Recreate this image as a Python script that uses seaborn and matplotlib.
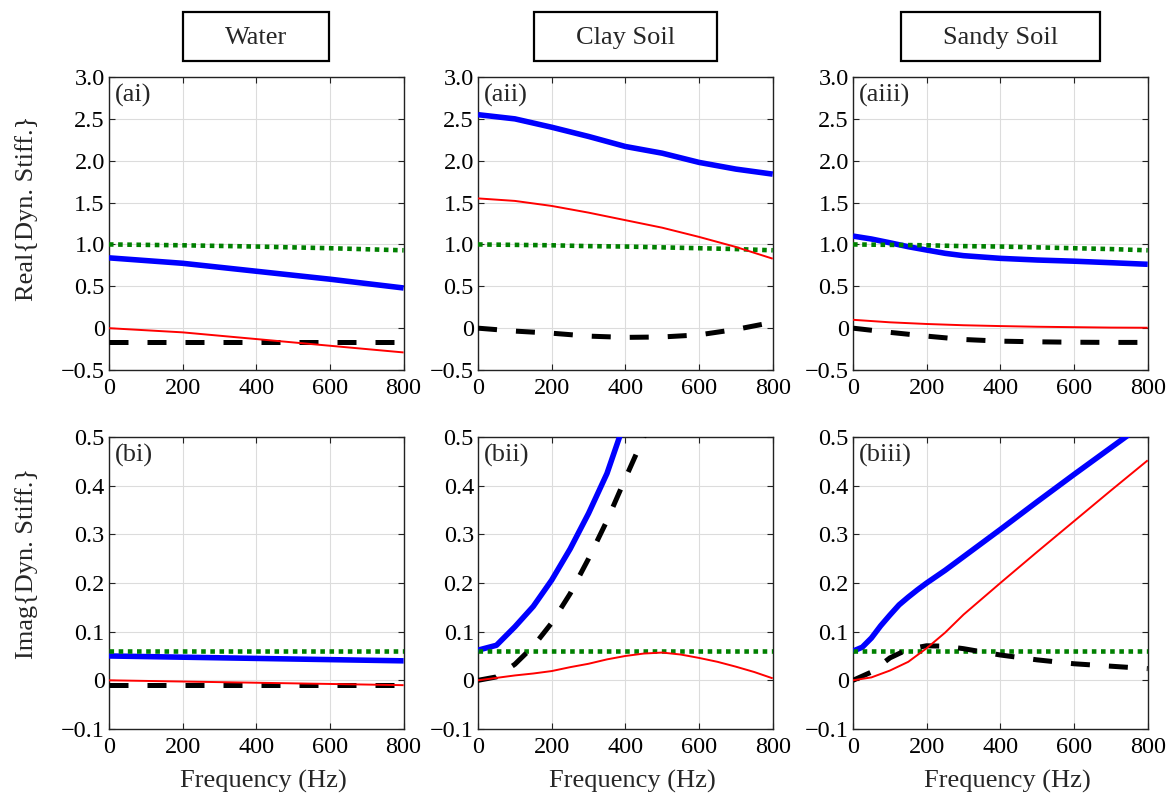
import matplotlib
matplotlib.use("Agg")
import matplotlib.pyplot as plt
import pandas as pd
import seaborn as sns
from matplotlib.patches import Rectangle

sns.set_style("white")
plt.rcParams["font.family"] = ["Liberation Serif", "DejaVu Serif"]
plt.rcParams["axes.unicode_minus"] = True

TICK_FS = 17.5
TEXT_FS = 19

media = ["Water", "Clay Soil", "Sandy Soil"]
real_tags = ["(ai)", "(aii)", "(aiii)"]
imag_tags = ["(bi)", "(bii)", "(biii)"]

x_ticks = [0, 200, 400, 600, 800]
x_ticklabels = ["0", "200", "400", "600", "800"]
re_ticks = [-0.5, 0, 0.5, 1.0, 1.5, 2.0, 2.5, 3.0]
re_ticklabels = ["\u22120.5", "0", "0.5", "1.0", "1.5", "2.0", "2.5", "3.0"]
im_ticks = [-0.1, 0, 0.1, 0.2, 0.3, 0.4, 0.5]
im_ticklabels = ["\u22120.1", "0", "0.1", "0.2", "0.3", "0.4", "0.5"]

f5 = [0, 200, 400, 600, 800]
f9 = [0, 100, 200, 300, 400, 500, 600, 700, 800]
f17 = [0, 50, 100, 150, 200, 250, 300, 350, 400, 450, 500, 550, 600, 650, 700, 750, 800]

# ---- real part of the dynamic stiffness ----
re_water_A = [0.84, 0.775, 0.68, 0.585, 0.48]
re_water_B = [0.0, -0.05, -0.13, -0.21, -0.29]
re_water_C = [1.0, 0.99, 0.975, 0.955, 0.93]
re_water_D = [-0.16, -0.16, -0.16, -0.16, -0.16]

re_clay_A = [2.55, 2.50, 2.40, 2.29, 2.17, 2.09, 1.98, 1.90, 1.84]
re_clay_B = [1.55, 1.52, 1.46, 1.38, 1.29, 1.20, 1.09, 0.97, 0.83]
re_clay_C = [1.0, 0.995, 0.99, 0.98, 0.975, 0.965, 0.955, 0.945, 0.93]
re_clay_D = [0.0, -0.035, -0.06, -0.095, -0.11, -0.105, -0.08, -0.015, 0.07]

re_sand_A_f = [0, 50, 100, 150, 200, 250, 300, 400, 500, 600, 700, 800]
re_sand_A = [1.10, 1.065, 1.02, 0.973, 0.933, 0.894, 0.866, 0.834, 0.814, 0.80, 0.782, 0.763]
re_sand_B = [0.10, 0.07, 0.05, 0.035, 0.025, 0.017, 0.012, 0.007, 0.005]
re_sand_C = [1.0, 0.995, 0.99, 0.98, 0.975, 0.965, 0.955, 0.945, 0.93]
re_sand_D = [0.0, -0.05, -0.095, -0.135, -0.155, -0.163, -0.168, -0.17, -0.17]

# ---- imaginary part of the dynamic stiffness ----
im_water_A = [0.05, 0.0475, 0.045, 0.0425, 0.04]
im_water_B = [0.0, -0.0025, -0.005, -0.0075, -0.01]
im_water_C = [0.06, 0.06, 0.06, 0.06, 0.06]
im_water_D = [-0.01, -0.01, -0.01, -0.01, -0.01]

im_clay_A_f = [0, 50, 100, 150, 200, 250, 300, 350, 400, 450]
im_clay_A = [0.062, 0.072, 0.11, 0.152, 0.206, 0.27, 0.343, 0.425, 0.535, 0.65]
im_clay_B = [0.0, 0.005, 0.01, 0.014, 0.019, 0.027, 0.034, 0.043, 0.05,
             0.055, 0.057, 0.053, 0.046, 0.038, 0.028, 0.017, 0.004]
im_clay_C = [0.06, 0.06, 0.06, 0.06, 0.06]
im_clay_D_f = [0, 50, 100, 150, 200, 250, 300, 350, 400, 450, 500]
im_clay_D = [0.0, 0.007, 0.033, 0.07, 0.118, 0.178, 0.25, 0.328, 0.415, 0.5, 0.58]

im_sand_A_f = [0, 25, 50, 75, 100, 125, 150, 175, 200, 250, 300, 400, 500, 600, 700, 800]
im_sand_A = [0.06, 0.068, 0.087, 0.112, 0.134, 0.155, 0.171, 0.186, 0.20, 0.226, 0.254,
             0.31, 0.367, 0.423, 0.478, 0.533]
im_sand_B_f = [0, 50, 100, 150, 200, 250, 300, 400, 500, 600, 700, 800]
im_sand_B = [0.0, 0.006, 0.02, 0.038, 0.066, 0.098, 0.135, 0.2, 0.264, 0.327, 0.39, 0.452]
im_sand_C = [0.06, 0.06, 0.06, 0.06, 0.06]
im_sand_D_f = [0, 50, 100, 150, 200, 250, 300, 400, 500, 600, 700, 800]
im_sand_D = [0.0, 0.017, 0.046, 0.064, 0.071, 0.07, 0.065, 0.052, 0.042, 0.034, 0.029, 0.024]

real_panels = [
    {"A": (f5, re_water_A), "B": (f5, re_water_B), "C": (f5, re_water_C), "D": (f5, re_water_D)},
    {"A": (f9, re_clay_A), "B": (f9, re_clay_B), "C": (f9, re_clay_C), "D": (f9, re_clay_D)},
    {"A": (re_sand_A_f, re_sand_A), "B": (f9, re_sand_B), "C": (f9, re_sand_C), "D": (f9, re_sand_D)},
]
imag_panels = [
    {"A": (f5, im_water_A), "B": (f5, im_water_B), "C": (f5, im_water_C), "D": (f5, im_water_D)},
    {"A": (im_clay_A_f, im_clay_A), "B": (f17, im_clay_B), "C": (f5, im_clay_C), "D": (im_clay_D_f, im_clay_D)},
    {"A": (im_sand_A_f, im_sand_A), "B": (im_sand_B_f, im_sand_B), "C": (f5, im_sand_C), "D": (im_sand_D_f, im_sand_D)},
]

# drawing order and line styles for the four curves
styles = [
    ("A", dict(color="#0000ff", lw=4.0, linestyle="-", zorder=3)),
    ("C", dict(color="#008000", lw=3.3, linestyle=(0, (1, 1)), zorder=4)),
    ("D", dict(color="black", lw=3.6, linestyle=(0, (3.8, 3.8)), zorder=5)),
    ("B", dict(color="#ff0000", lw=1.4, linestyle="-", zorder=6)),
]

fig = plt.figure(figsize=(11.74, 7.98), dpi=100)
lefts = [0.0928, 0.4072, 0.7266]
width = 0.2510
row_bottom = [0.5363, 0.0865]
row_height = [0.3672, 0.3659]


def style_axes(ax, ylim, yticks, yticklabels):
    ax.set_xlim(0, 800)
    ax.set_ylim(*ylim)
    ax.set_xticks(x_ticks)
    ax.set_xticklabels(x_ticklabels)
    ax.set_yticks(yticks)
    ax.set_yticklabels(yticklabels)
    ax.grid(True, color="#dcdcdc", lw=0.8)
    ax.set_axisbelow(True)
    for sp in ax.spines.values():
        sp.set_visible(True)
        sp.set_color("#222222")
        sp.set_linewidth(1.0)
    ax.tick_params(axis="both", direction="in", length=4, width=0.8,
                   top=True, right=True, bottom=True, left=True,
                   labelsize=TICK_FS, colors="#222222", labelcolor="black")
    ax.tick_params(axis="x", pad=6)
    ax.tick_params(axis="y", pad=3)


for row, panels in enumerate([real_panels, imag_panels]):
    for col in range(3):
        ax = fig.add_axes([lefts[col], row_bottom[row], width, row_height[row]])
        series = panels[col]
        for key, kw in styles:
            fx, vals = series[key]
            df = pd.DataFrame({"Frequency": fx, "value": vals})
            sns.lineplot(data=df, x="Frequency", y="value", ax=ax,
                         solid_capstyle="butt", dash_capstyle="butt", **kw)
        if row == 0:
            style_axes(ax, (-0.5, 3.0), re_ticks, re_ticklabels)
            tag = real_tags[col]
        else:
            style_axes(ax, (-0.1, 0.5), im_ticks, im_ticklabels)
            tag = imag_tags[col]
        ax.annotate(tag, xy=(0, 1), xycoords="axes fraction",
                    xytext=(4.5, -5), textcoords="offset points",
                    ha="left", va="top", fontsize=TEXT_FS)
        ax.set_xlabel("")
        ax.set_ylabel("")
        if row == 1:
            ax.set_xlabel("Frequency (Hz)", fontsize=TEXT_FS, va="center")
            ax.xaxis.set_label_coords(0.525, -0.18)
        if col == 0:
            ax.set_ylabel("Real{Dyn. Stiff.}" if row == 0 else "Imag{Dyn. Stiff.}",
                          fontsize=TEXT_FS, va="center")
            ax.yaxis.set_label_coords(-0.279, 0.55 if row == 0 else 0.567)

# boxed column headings
fig.canvas.draw()
renderer = fig.canvas.get_renderer()
W, H = fig.get_size_inches() * fig.dpi
box_h = 49.0
box_cy = 36.5
for col, name in enumerate(media):
    cx = lefts[col] + width / 2
    t = fig.text(cx, 1 - 44.0 / H, name, ha="center", va="baseline", fontsize=TEXT_FS)
    bb = t.get_window_extent(renderer)
    box_w = bb.width + 2 * 42
    rect = Rectangle((cx - box_w / 2 / W, 1 - (box_cy + box_h / 2) / H),
                     box_w / W, box_h / H, transform=fig.transFigure,
                     fill=False, ec="black", lw=1.6)
    fig.add_artist(rect)

fig.savefig("out.png", dpi=100, facecolor="white")
